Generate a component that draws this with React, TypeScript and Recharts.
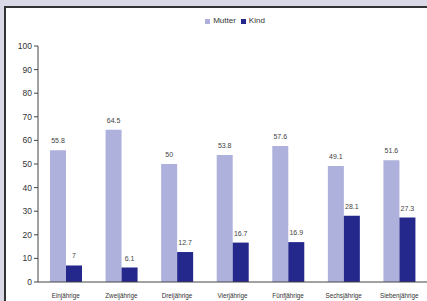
import { BarChart, Bar, XAxis, YAxis, Legend, LabelList } from "recharts";

const ages = [
  "Einjährige",
  "Zweijährige",
  "Dreijährige",
  "Vierjährige",
  "Fünfjährige",
  "Sechsjährige",
  "Siebenjährige",
];
const mutter = [55.8, 64.5, 50, 53.8, 57.6, 49.1, 51.6];
const kind = [7, 6.1, 12.7, 16.7, 16.9, 28.1, 27.3];
const yTicks = [0, 10, 20, 30, 40, 50, 60, 70, 80, 90, 100];

const data = ages.map((age, i) => ({ age, mutter: mutter[i], kind: kind[i] }));

const LIGHT = "#aeb1dc";
const DARK = "#24278c";

function LegendBox() {
  return (
    <div style={{ display: "flex", justifyContent: "center", alignItems: "center", fontSize: 8, color: "#333", lineHeight: "10px" }}>
      <span style={{ width: 5, height: 5, background: LIGHT, marginRight: 3, display: "inline-block" }} />
      <span style={{ marginRight: 5 }}>Mutter</span>
      <span style={{ width: 5, height: 5, background: DARK, marginRight: 3, display: "inline-block" }} />
      <span>Kind</span>
    </div>
  );
}

export default function App() {
  return (
    <div style={{ position: "absolute", left: 0, top: 0, width: 427, height: 301, background: "#d9d9e8", overflow: "hidden", fontFamily: "Arial, 'Liberation Sans', sans-serif" }}>
      <div style={{ position: "absolute", left: 4, top: 6, width: 440, height: 310, background: "#fff", borderLeft: "2px solid #333", borderTop: "2px solid #333" }} />
      <div style={{ position: "absolute", left: 0, top: 0 }}>
        <BarChart
          width={427}
          height={301}
          data={data}
          margin={{ top: 46, right: 0, bottom: 0, left: 0 }}
          barGap={0}
          barSize={16}
        >
          <Legend
            verticalAlign="top"
            content={<LegendBox />}
            wrapperStyle={{ position: "absolute", top: 16, left: 40, width: 390, height: 0 }}
          />
          <XAxis
            dataKey="age"
            height={19}
            interval={0}
            tickLine={false}
            axisLine={{ stroke: "#444" }}
            tick={{ fontSize: 6.3, fill: "#333" }}
            tickMargin={6}
          />
          <YAxis
            width={38}
            domain={[0, 100]}
            ticks={yTicks}
            interval={0}
            tickSize={4}
            tickLine={{ stroke: "#444" }}
            axisLine={{ stroke: "#444" }}
            tick={{ fontSize: 8.5, fill: "#333" }}
          />
          <Bar dataKey="mutter" name="Mutter" fill={LIGHT} isAnimationActive={false}>
            <LabelList dataKey="mutter" position="top" offset={7} fill="#444" fontSize={7} />
          </Bar>
          <Bar dataKey="kind" name="Kind" fill={DARK} isAnimationActive={false}>
            <LabelList dataKey="kind" position="top" offset={7} fill="#444" fontSize={7} />
          </Bar>
        </BarChart>
      </div>
    </div>
  );
}
